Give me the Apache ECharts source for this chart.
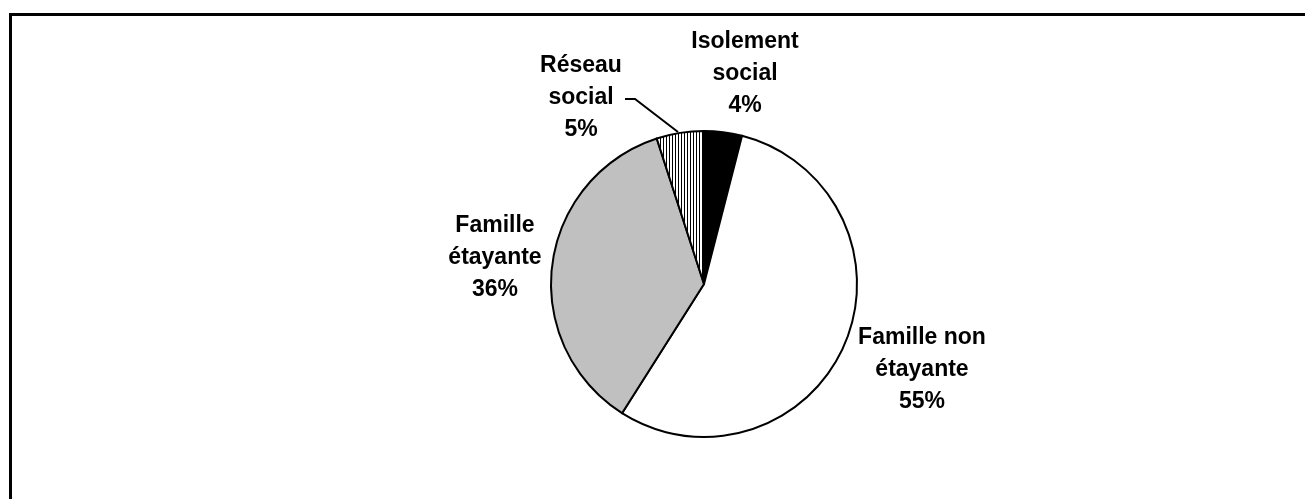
<!DOCTYPE html>
<html>
<head>
<meta charset="utf-8">
<script src="https://cdn.jsdelivr.net/npm/echarts@6/dist/echarts.min.js"></script>
<style>
html,body{margin:0;padding:0;background:#fff;}
#chart{width:1305px;height:499px;}
</style>
</head>
<body>
<div id="chart"></div>
<script>
// Data
const categories = ["Isolement\nsocial", "Famille non\nétayante", "Famille\nétayante", "Réseau\nsocial"];
const values = [4, 55, 36, 5];

// Stripe pattern for "Réseau social"
function stripePattern() {
  const c = document.createElement('canvas');
  c.width = 3; c.height = 4;
  const ctx = c.getContext('2d');
  ctx.fillStyle = '#ffffff';
  ctx.fillRect(0, 0, 3, 4);
  ctx.fillStyle = '#000000';
  ctx.fillRect(0, 0, 1, 4);
  return c;
}

const fills = ['#000000', '#ffffff', '#c0c0c0', { image: stripePattern(), repeat: 'repeat' }];
const labelCenters = [[745, 74], [922, 370], [495, 258], [581, 98]];

const chart = echarts.init(document.getElementById('chart'), null, { renderer: 'canvas' });
chart.setOption({
  animation: false,
  backgroundColor: '#ffffff',
  graphic: [{
    type: 'rect',
    shape: { x: 10.5, y: 14.5, width: 1400, height: 600 },
    style: { fill: 'none', stroke: '#000', lineWidth: 3 },
    silent: true
  }],
  series: [{
    type: 'pie',
    center: [704, 284],
    radius: 153,
    startAngle: 90,
    clockwise: true,
    silent: true,
    data: categories.map((n, i) => ({
      name: n,
      value: values[i],
      itemStyle: { color: fills[i] },
      labelLine: { show: i === 3 }
    })),
    itemStyle: { borderColor: '#000', borderWidth: 2 },
    label: {
      show: true,
      position: 'outside',
      formatter: p => p.name + '\n' + p.value + '%',
      fontFamily: 'Liberation Sans, Arial, sans-serif',
      fontWeight: 'bold',
      fontSize: 23,
      lineHeight: 32,
      color: '#000',
      align: 'center'
    },
    labelLine: {
      show: false,
      lineStyle: { color: '#000', width: 2 }
    },
    labelLayout: function (params) {
      const i = params.dataIndex;
      const res = {
        x: labelCenters[i][0],
        y: labelCenters[i][1],
        align: 'center',
        verticalAlign: 'middle'
      };
      if (i === 3) {
        res.labelLinePoints = [[678, 132], [635, 99], [625, 99]];
      }
      return res;
    }
  }]
});
</script>
</body>
</html>
